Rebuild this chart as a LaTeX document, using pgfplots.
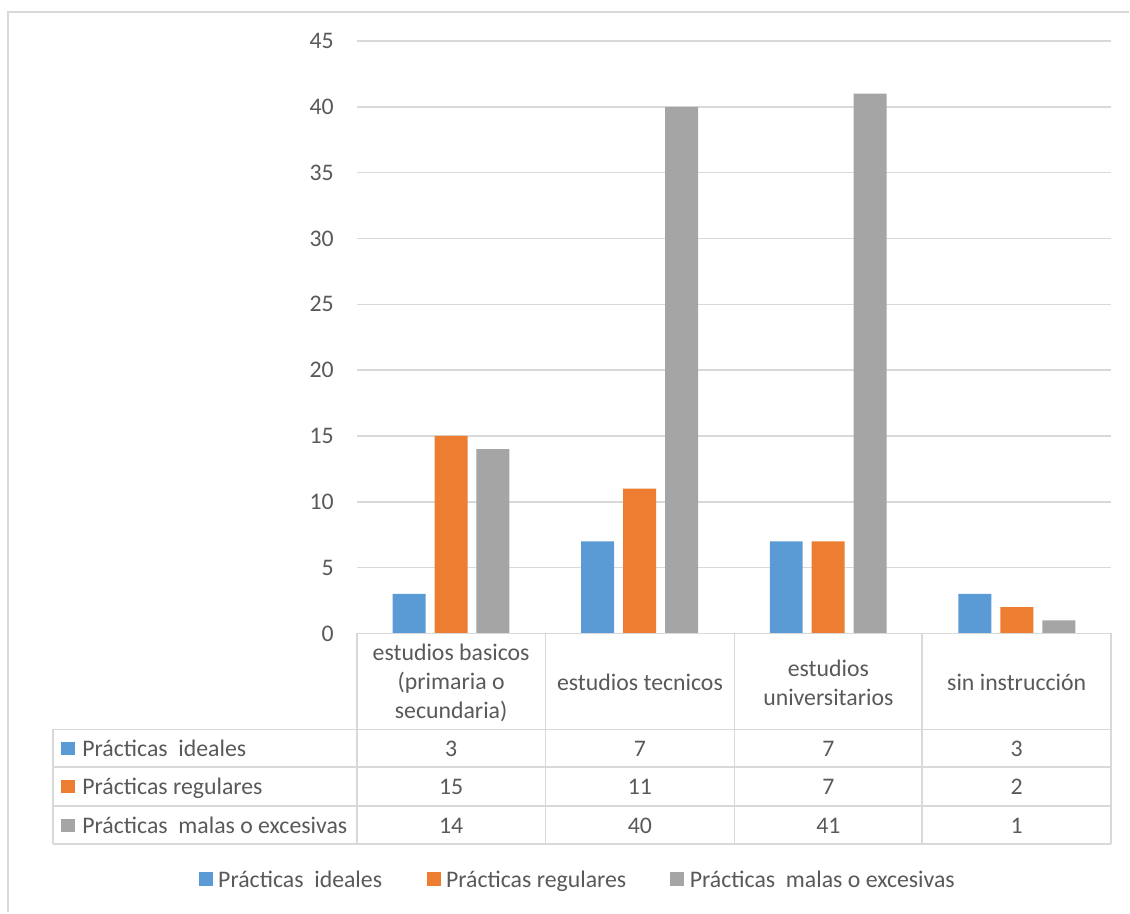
\documentclass[border=0pt]{standalone}
\usepackage{pgfplots}
\pgfplotsset{compat=1.18}
\usepackage{fontspec}
\setmainfont{Carlito}
\definecolor{cblue}{HTML}{5B9BD5}
\definecolor{corange}{HTML}{ED7D31}
\definecolor{cgray}{HTML}{A5A5A5}
\definecolor{ctext}{HTML}{595959}
\definecolor{cgrid}{HTML}{D9D9D9}
\begin{document}
\begin{tikzpicture}[font=\fontsize{11.9}{14.5}\selectfont, text=ctext]
\begin{axis}[name=ax, at={(0,0)}, anchor=south west,
  scale only axis, width=377.5pt, height=296.5pt,
  xmin=-0.5, xmax=3.5, ymin=0, ymax=45,
  ytick={0,5,...,45}, xtick=\empty,
  ymajorgrids, grid style={cgrid, line width=0.8pt},
  axis line style={draw=none}, major tick length=0,
  ybar=4.5pt, bar width=16.5pt,
  yticklabel style={font=\fontsize{11.9}{14.5}\selectfont, text=ctext, xshift=-8pt},
  /pgf/number format/assume math mode=true,
  clip=false]
\addplot[fill=cblue, draw=none] coordinates {(0,3) (1,7) (2,7) (3,3)};
\addplot[fill=corange, draw=none] coordinates {(0,15) (1,11) (2,7) (3,2)};
\addplot[fill=cgray, draw=none] coordinates {(0,14) (1,40) (2,41) (3,1)};
\end{axis}
\begin{scope}[shift={(ax.south west)}]
\begin{scope}[shift={(-178.5pt,317pt)}, x=0.5pt, y=-0.5pt]
\path (0,0) rectangle (1130,913);
% outer frame (partially visible)
\draw[cgrid, line width=0.9pt] (8,913) -- (8,12) -- (1130,12);
% table grid
\begin{scope}[cgrid, line width=0.9pt]
\draw (357,634) -- (1112,634);
\foreach \yy in {730,768,807,845} \draw (53,\yy) -- (1112,\yy);
\draw (53,730) -- (53,845);
\foreach \xx in {357,546,735,923,1112} \draw (\xx,634) -- (\xx,845);
\end{scope}
% category labels
\node[align=center] at (451.5,683) {estudios basicos\\(primaria o\\secundaria)};
\node[align=center] at (640.5,683) {estudios tecnicos};
\node[align=center] at (829,683) {estudios\\universitarios};
\node[align=center] at (1017.5,683) {sin instrucción};
% row labels
\fill[cblue] (61,743) rectangle (75,756);
\node[anchor=base west, inner sep=0pt] at (82,757) {Prácticas\ \ ideales};
\fill[corange] (61,781) rectangle (75,794);
\node[anchor=base west, inner sep=0pt] at (82,795) {Prácticas regulares};
\fill[cgray] (61,820) rectangle (75,833);
\node[anchor=base west, inner sep=0pt] at (82,834) {Prácticas\ \ malas o excesivas};
% values
\foreach \xc/\a/\b/\c in {451.5/3/15/14, 640.5/7/11/40, 829/7/7/41, 1017.5/3/2/1} {
  \node[anchor=base, inner sep=0pt] at (\xc,757) {\a};
  \node[anchor=base, inner sep=0pt] at (\xc,795) {\b};
  \node[anchor=base, inner sep=0pt] at (\xc,834) {\c};
}
% legend
\fill[cblue] (199,873) rectangle (213,887);
\node[anchor=base west, inner sep=0pt] at (218,888) {Prácticas\ \ ideales};
\fill[corange] (427,873) rectangle (441,887);
\node[anchor=base west, inner sep=0pt] at (446,888) {Prácticas regulares};
\fill[cgray] (671,873) rectangle (685,887);
\node[anchor=base west, inner sep=0pt] at (690,888) {Prácticas\ \ malas o excesivas};
\end{scope}
\end{scope}
\end{tikzpicture}
\end{document}
